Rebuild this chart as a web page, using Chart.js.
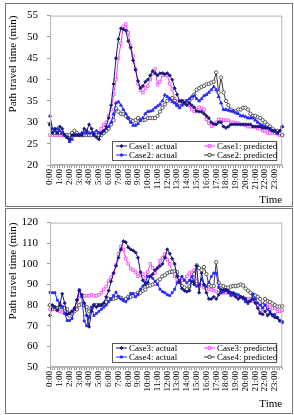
<!DOCTYPE html>
<html>
<head>
<meta charset="utf-8">
<script src="https://cdn.jsdelivr.net/npm/chart.js@4/dist/chart.umd.min.js"></script>
<style>
  body { margin: 0; background: #fff; width: 294px; height: 415px; position: relative; overflow: hidden; }
  .panel { position: absolute; left: 5px; width: 286px; border: 1px solid #777; }
  #p1 { top: 3px; height: 202px; }
  #p2 { top: 208px; height: 204px; }
  canvas { position: absolute; left: 0; }
  #c1 { top: 0; }
  #c2 { top: 207px; }
</style>
</head>
<body>
<div class="panel" id="p1"></div>
<div class="panel" id="p2"></div>
<canvas id="c1" width="294" height="207"></canvas>
<canvas id="c2" width="294" height="208"></canvas>
<script>
'use strict';

// 15 minute steps, labelled every hour
var hourLabels = ['0:00','1:00','2:00','3:00','4:00','5:00','6:00','7:00','8:00','9:00','10:00','11:00',
  '12:00','13:00','14:00','15:00','16:00','17:00','18:00','19:00','20:00','21:00','22:00','23:00'];
var timeSteps = [];
hourLabels.forEach(function (h) {
  var hh = h.split(':')[0];
  ['00', '15', '30', '45'].forEach(function (m) { timeSteps.push(hh + ':' + m); });
});

var yTicksTop = [20, 25, 30, 35, 40, 45, 50, 55];
var yTicksBottom = [50, 60, 70, 80, 90, 100, 110, 120];

var case1Actual = [
  29.5, 27.5, 28.5, 27.5,  29, 28.5, 27, 26.5,  26, 27, 27, 27,  27, 27, 28.5, 28,
  29.5, 28.5, 27, 26.5,  26, 27.5, 28, 29,  31, 34, 39, 45,  49.5, 52, 51.8, 51.5,
  49, 47.5, 44.5, 42.3,  39.7, 38, 38.5, 39.5,  40, 41, 42, 41.5,  41, 41.5, 41.5, 41.3,
  41.5, 41, 40, 38,  36.5, 35, 35, 34.5,  34, 34.5, 34, 33.5,  32.6, 32.5, 32.5, 32,
  31.5, 31, 30, 29.6,  29.5, 30, 30, 29,  28.7, 29, 29.5, 29.5,  29.5, 29.5, 29.5, 29.5,
  29.5, 29.5, 29.5, 29,  29, 29, 29, 28.7,  28.7, 28.7, 28.5, 28,  28, 27.5, 28, 29
];
var case1Pred = [
  27, 27, 27, 27,  27, 27, 27, 26.5,  26.5, 27, 27, 27,  27, 27, 27, 27,
  27, 27, 27, 27,  27.5, 28.5, 29.5, 30,  31.5, 33, 36.5, 40,  45, 48.5, 52.5, 53,
  51, 48, 45.5, 42.5,  39, 37.5, 37, 38,  38.5, 40, 41.5, 42.5,  38.8, 39.5, 41, 41,
  41, 39, 37.8, 35.5,  34.9, 35, 35, 35,  35, 34, 33, 32.5,  33, 33.5, 33.3, 33,
  30.7, 29.8, 29.1, 29.5,  30, 30.7, 30.7, 30.5,  30.5, 30.5, 30, 30,  29.8, 29.8, 29.5, 29.5,
  29.3, 29, 29, 29,  29, 28.5, 28.5, 28,  28, 27.5, 27.5, 27.5,  27.5, 27.3, 27, 27
];
var case2Actual = [
  31.5, 28.5, 28, 28.5,  28, 27.5, 27, 26.5,  25.5, 26, 27, 27,  27, 27.5, 27.5, 27.5,
  27.5, 27.5, 27.5, 28,  27.5, 27.5, 28, 28.5,  29, 30, 32, 34.5,  34.8, 34, 33, 32,
  31, 30, 29.3, 29.3,  29.7, 30.5, 31, 32,  32.5, 32.6, 32.8, 33.4,  33.8, 34.2, 35, 36.4,
  36, 35.5, 34.8, 34.5,  34, 33.4, 34, 34.5,  35, 35.5, 36, 36.2,  35.5, 35, 35.5, 36.2,
  36.5, 37, 37.6, 38.3,  37.6, 36, 34.5, 33,  33, 32.8, 32.6, 32.6,  32.2, 32, 31.5, 31.5,
  31.3, 31, 31, 31,  30.5, 30, 29.5, 29.3,  29, 28.7, 28.3, 28,  28, 27.5, 28, 29
];
var case2Pred = [
  29.5, 28, 27.5, 27.5,  27.5, 27.5, 27, 27,  27, 27.5, 28, 27.5,  27, 27, 27, 27,
  27, 27, 27, 27,  27, 27, 27.5, 28,  28.5, 29.5, 30.5, 33.3,  32.5, 32, 31.9, 31.5,
  31, 30.5, 30.3, 30.5,  31, 30.6, 30.5, 30.6,  31, 31, 31, 31,  31.5, 32.5, 33.4, 34.2,
  35, 35.5, 35.7, 35,  34, 34.5, 35, 34.5,  35, 35, 35.7, 36.5,  37.6, 38, 38.3, 38.5,
  38.9, 39, 39.3, 39.5,  41.7, 37, 40.5, 37,  35, 34, 33, 32.6,  32.6, 33, 33, 33.4,
  33.4, 33, 32, 31.5,  31.5, 31.2, 31, 30.5,  30, 29.5, 29, 28.5,  28, 28, 27.5, 27
];

var case3Actual = [
  75, 80, 79, 77.5,  80, 85.5, 81, 75.5,  76, 77, 78.5, 82.5,  87, 85, 81, 75,
  69.5, 77, 80, 79,  80, 80, 81, 84,  87, 91.5, 95.5, 99,  103, 107, 111, 110.5,
  108, 107, 106.5, 105.5,  103, 96, 92, 90,  91, 94, 95, 97,  98, 99, 100, 103,
  107, 105, 102.5, 100,  94, 91, 88, 87,  86.5, 87, 91.5, 90,  99, 86, 95.5, 90,
  86, 83, 83, 84,  83, 85, 87.5, 87.5,  87.5, 87, 86, 86,  84, 83, 84, 83.8,
  83, 81.5, 82, 83,  81, 78.5, 76, 75.5,  77, 75, 76, 75,  74, 73.8, 72.5, 72
];
var case3Pred = [
  78, 78, 78, 77.5,  77, 76.5, 76, 75.5,  76, 77, 78, 80,  84.6, 85, 84.5, 84.5,
  84.5, 85, 84.5, 84.5,  85, 86, 87.7, 89,  91.6, 93.5, 95.5, 99.5,  104.8, 108.5, 107, 102.6,
  100, 97.7, 97, 96,  94, 94.6, 95, 93,  96, 100, 98, 95.5,  98, 101.5, 103, 104.8,
  102, 100, 96, 93.9,  92.5, 91.6, 92, 92.4,  94, 95.5, 96, 97,  91.6, 90, 89.5, 88.5,
  88, 87.7, 87.5, 87,  86.5, 86, 86, 86,  86, 86, 85.5, 85,  84.5, 84.5, 84, 83.5,
  83, 83, 83, 82,  81.6, 80, 76.2, 78,  80, 80.1, 79, 78.6,  78.6, 77, 77, 77.5
];
var case4Actual = [
  86.2, 86, 86, 82.4,  81, 79.3, 76, 72.5,  72.5, 73.5, 78, 82.4,  87.5, 84, 72.3, 70,
  74, 79, 75, 76,  77, 78, 79, 80,  81.6, 83, 84.6, 86.2,  84, 83, 82.4, 81.6,
  83, 85.6, 85.6, 84,  85, 87.7, 89.2, 91,  93.9, 94, 93, 91.6,  90, 87.7, 86.5, 86,
  85, 84.6, 86, 87.7,  90.8, 92, 93.9, 92,  90.8, 92, 93.9, 91,  89.2, 90, 92.4, 90,
  89, 91, 93.9, 95.5,  95.5, 88.5, 86, 86.5,  87, 86, 84.6, 85,  85.4, 85, 84, 83,
  81.6, 80.8, 82, 85.4,  83, 81, 80, 78.6,  80, 78, 77, 75.4,  75.4, 74, 72.3, 71.5
];
var case4Pred = [
  80, 79, 79, 78.5,  79, 79, 78.5, 78,  75, 76, 77, 78,  80, 80.5, 80, 79,
  77, 78.5, 80, 80,  80, 80, 80.5, 81.5,  83, 83, 83, 83.5,  84, 83.5, 82.4, 83,
  84, 84, 84.6, 85,  86, 86, 87, 87.5,  89.2, 89.5, 90, 90.5,  91.6, 92.5, 93.9, 94.5,
  95.5, 96, 96.2, 96.5,  96, 93, 89.2, 88.5,  87.7, 89, 92.4, 95,  99.3, 98, 97, 98.5,
  95, 90, 89.2, 89.2,  100.8, 90.8, 89.5, 89.2,  88.5, 88.5, 89, 89.2,  89.2, 89.5, 90, 89.5,
  88, 87, 86, 85,  84.6, 84, 83, 80,  83, 82, 81.5, 80.8,  80, 79.3, 79.3, 79.5
];

var NAVY = '#17177a', PINK = '#f23cf2', BLUE = '#2626ff', GREY = '#3a3a3a';
var SERIF = "'Liberation Serif', 'Times New Roman', serif";

// ramka wokol obszaru wykresu + legenda w srodku
var framePlugin = {
  id: 'frame',
  afterDatasetsDraw: function (chart) {
    var a = chart.chartArea, ctx = chart.ctx;
    ctx.save();
    ctx.strokeStyle = '#b5b5b5';
    ctx.lineWidth = 1;
    ctx.strokeRect(a.left + 0.5, a.top + 0.5, a.right - a.left - 1, a.bottom - a.top - 1);

    // legenda: 2 kolumny, 2 wiersze
    var bx = a.left + 62, by = a.bottom - 24, bw = a.right - 6 - bx, bh = 19;
    ctx.fillStyle = '#fff';
    ctx.fillRect(bx, by, bw, bh);
    ctx.strokeStyle = '#555';
    ctx.strokeRect(bx + 0.5, by + 0.5, bw, bh);
    ctx.font = '9px ' + SERIF;
    ctx.textBaseline = 'middle';
    chart.data.datasets.forEach(function (ds, i) {
      var col = i % 2, row = Math.floor(i / 2);
      var x = bx + 4 + col * 88, y = by + 5 + row * 9;
      ctx.strokeStyle = ds.borderColor;
      ctx.lineWidth = 1;
      ctx.beginPath();
      ctx.moveTo(x, y);
      ctx.lineTo(x + 11, y);
      ctx.stroke();
      ctx.fillStyle = ds.pointBackgroundColor;
      Chart.helpers.drawPoint(ctx, {
        pointStyle: ds.pointStyle, radius: ds.pointRadius, borderWidth: 1
      }, x + 5.5, y);
      ctx.fillStyle = '#000';
      ctx.fillText(ds.label, x + 13, y + 0.5);
    });
    ctx.restore();
  }
};

function series(label, data, color, style, filled, radius) {
  return {
    label: label,
    data: data,
    borderColor: color,
    backgroundColor: color,
    borderWidth: 1,
    pointStyle: style,
    pointRadius: radius,
    pointBorderWidth: 0.8,
    pointBackgroundColor: filled ? color : '#fff',
    pointBorderColor: color,
    tension: 0
  };
}

function makeChart(id, datasets, yTicks, padTop, padBottom, xHeight) {
  return new Chart(document.getElementById(id), {
    type: 'line',
    data: { labels: timeSteps, datasets: datasets },
    options: {
      responsive: false,
      animation: false,
      layout: { padding: { left: 0, right: 5, top: padTop, bottom: padBottom } },
      plugins: { legend: { display: false }, tooltip: { enabled: false } },
      scales: {
        x: {
          offset: false,
          border: { color: '#b5b5b5' },
          grid: { drawOnChartArea: false, tickLength: 3, color: '#999' },
          ticks: {
            autoSkip: false, maxRotation: 90, minRotation: 90, padding: 1,
            color: '#000', font: { family: SERIF, size: 9 },
            callback: function (v, i) { return i % 4 === 0 ? hourLabels[i / 4] : ''; }
          },
          title: {
            display: true, text: 'Time', align: 'end', color: '#000',
            font: { family: SERIF, size: 11 }, padding: 0
          },
          afterFit: function (s) { s.height = xHeight; }
        },
        y: {
          min: yTicks[0], max: yTicks[yTicks.length - 1],
          border: { color: '#b5b5b5' },
          grid: { drawOnChartArea: false, tickLength: 3, color: '#999' },
          ticks: {
            stepSize: yTicks[1] - yTicks[0], padding: 9, color: '#000',
            font: { family: SERIF, size: 11 }
          },
          title: {
            display: true, text: 'Path travel time (min)', align: 'end', color: '#000',
            font: { family: SERIF, size: 11 }, padding: { top: 7, bottom: 0 }
          },
          afterFit: function (s) { s.width = 50; }
        }
      }
    },
    plugins: [framePlugin]
  });
}

makeChart('c1', [
  Object.assign(series('Case1: actual', case1Actual, NAVY, 'rectRot', true, 1.6), { order: 1 }),
  Object.assign(series('Case1: predicted', case1Pred, PINK, 'rect', false, 1.8), { order: 4 }),
  Object.assign(series('Case2: actual', case2Actual, BLUE, 'triangle', true, 1.8), { order: 2 }),
  Object.assign(series('Case2: predicted', case2Pred, GREY, 'circle', false, 1.7), { order: 3 })
], yTicksTop, 12, 0, 42);

makeChart('c2', [
  Object.assign(series('Case3: actual', case3Actual, NAVY, 'rectRot', true, 1.6), { order: 1 }),
  Object.assign(series('Case3: predicted', case3Pred, PINK, 'rect', false, 1.8), { order: 4 }),
  Object.assign(series('Case4: actual', case4Actual, BLUE, 'rect', true, 1.4), { order: 2 }),
  Object.assign(series('Case4: predicted', case4Pred, GREY, 'circle', false, 1.7), { order: 3 })
], yTicksBottom, 8, 4, 44);
</script>
</body>
</html>
